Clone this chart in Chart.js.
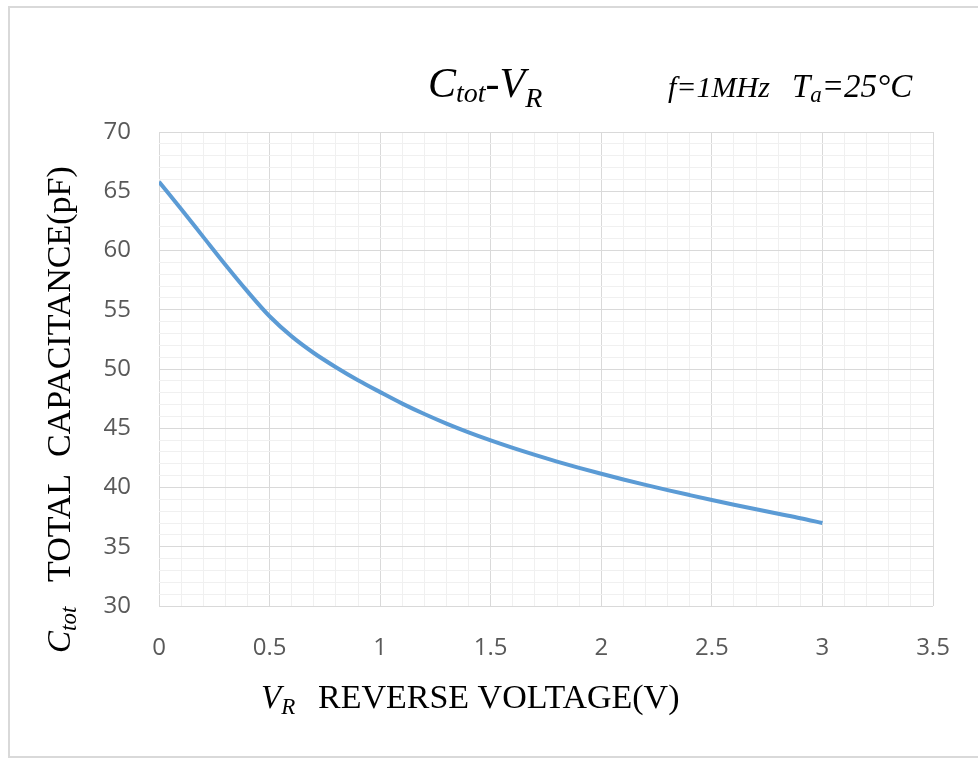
<!DOCTYPE html>
<html>
<head>
<meta charset="utf-8">
<script src="https://cdn.jsdelivr.net/npm/chart.js@4.4.0/dist/chart.umd.min.js"></script>
<style>
  html, body { margin: 0; padding: 0; background: #fff; }
  #wrap { width: 978px; height: 758px; position: relative; }
</style>
</head>
<body>
<div id="wrap"><canvas id="ctotChart"></canvas></div>
<script>
// reverse voltage (V) and total capacitance (pF)
const voltage = [0, 0.1, 0.2, 0.3, 0.4, 0.5, 0.6, 0.7, 0.8, 0.9, 1.0,
                 1.1, 1.2, 1.3, 1.4, 1.5, 1.6, 1.7, 1.8, 1.9, 2.0,
                 2.1, 2.2, 2.3, 2.4, 2.5, 2.6, 2.7, 2.8, 2.9, 3.0];
const capacitance = [65.8, 63.5, 61.15, 58.8, 56.55, 54.45, 52.75, 51.35, 50.15, 49.05, 48.05,
                     47.08, 46.2, 45.39, 44.65, 43.97, 43.34, 42.75, 42.19, 41.66, 41.16,
                     40.68, 40.22, 39.78, 39.36, 38.95, 38.55, 38.16, 37.78, 37.41, 37.0];
const xTickLabels = ['0', '0.5', '1', '1.5', '2', '2.5', '3', '3.5'];
const yTickLabels = ['30', '35', '40', '45', '50', '55', '60', '65', '70'];

const serif = '"Liberation Serif", "Times New Roman", serif';
const majorGrid = '#d9d9d9';
const minorGrid = '#f0f0f0';

// draw a row of text pieces, each with its own font and baseline shift
function drawRuns(ctx, x, y, runs) {
  runs.forEach(r => {
    ctx.font = r.font;
    ctx.fillText(r.t, x, y + (r.dy || 0));
    x += ctx.measureText(r.t).width;
  });
}

const textPlugin = {
  id: 'textPlugin',
  beforeDraw(chart) {
    const ctx = chart.ctx;
    ctx.save();
    ctx.strokeStyle = '#d9d9d9';
    ctx.lineWidth = 2;
    ctx.strokeRect(9, 7, 1000, 750);
    ctx.restore();
  },
  afterDraw(chart) {
    const ctx = chart.ctx;
    ctx.save();
    ctx.fillStyle = '#000';
    ctx.textBaseline = 'alphabetic';
    ctx.textAlign = 'left';

    // main title
    drawRuns(ctx, 428, 97, [
      { t: 'C', font: 'italic 42px ' + serif },
      { t: 'tot', font: 'italic 28px ' + serif, dy: 5 },
      { t: '-', font: 'italic 42px ' + serif },
      { t: 'V', font: 'italic 42px ' + serif },
      { t: 'R', font: 'italic 28px ' + serif, dy: 10 }
    ]);
    // test conditions
    drawRuns(ctx, 668, 97, [
      { t: 'f=1MHz', font: 'italic 30px ' + serif }
    ]);
    drawRuns(ctx, 792, 97, [
      { t: 'T', font: 'italic 33px ' + serif },
      { t: 'a', font: 'italic 23px ' + serif, dy: 5 },
      { t: '=25\u00B0C', font: 'italic 33px ' + serif }
    ]);

    // x axis title
    drawRuns(ctx, 261, 708, [
      { t: 'V', font: 'italic 33px ' + serif },
      { t: 'R', font: 'italic 23px ' + serif, dy: 6 }
    ]);
    drawRuns(ctx, 318, 708, [
      { t: 'REVERSE VOLTAGE(V)', font: '34px ' + serif }
    ]);

    // y axis title, rotated
    ctx.translate(70, 653);
    ctx.rotate(-Math.PI / 2);
    drawRuns(ctx, 0, 0, [
      { t: 'C', font: 'italic 33px ' + serif },
      { t: 'tot', font: 'italic 23px ' + serif, dy: 6 }
    ]);
    drawRuns(ctx, 71, 0, [
      { t: 'TOTAL  CAPACITANCE(pF)', font: '34px ' + serif }
    ]);
    ctx.restore();
  }
};

const points = voltage.map((v, i) => ({ x: v, y: capacitance[i] }));

new Chart(document.getElementById('ctotChart'), {
  type: 'line',
  data: {
    datasets: [{
      data: points,
      borderColor: '#5b9bd5',
      borderWidth: 4,
      pointRadius: 0,
      fill: false,
      cubicInterpolationMode: 'monotone'
    }]
  },
  options: {
    responsive: true,
    maintainAspectRatio: false,
    animation: false,
    devicePixelRatio: 1,
    layout: { padding: { left: 0, top: 132, right: 45, bottom: 0 } },
    plugins: {
      legend: { display: false },
      tooltip: { enabled: false }
    },
    scales: {
      x: {
        type: 'linear',
        min: 0,
        max: 3.5,
        afterFit: s => { s.height = 152; },
        border: { display: false },
        grid: {
          drawTicks: false,
          color: c => (Math.round(c.tick.value * 10) % 5 === 0 ? majorGrid : minorGrid)
        },
        ticks: {
          stepSize: 0.1,
          autoSkip: false,
          maxRotation: 0,
          padding: 28,
          color: '#595959',
          font: { family: '"Open Sans", sans-serif', size: 24 },
          callback: v => {
            const k = Math.round(v * 10);
            return k % 5 === 0 ? xTickLabels[k / 5] : '';
          }
        }
      },
      y: {
        min: 30,
        max: 70,
        afterFit: s => { s.width = 159; },
        border: { display: false },
        grid: {
          drawTicks: false,
          color: c => (Math.round(c.tick.value) % 5 === 0 ? majorGrid : minorGrid)
        },
        ticks: {
          stepSize: 1,
          autoSkip: false,
          padding: 28,
          color: '#595959',
          font: { family: '"Open Sans", sans-serif', size: 24 },
          callback: v => {
            const k = Math.round(v);
            return k % 5 === 0 ? yTickLabels[(k - 30) / 5] : '';
          }
        }
      }
    }
  },
  plugins: [textPlugin]
});
</script>
</body>
</html>
